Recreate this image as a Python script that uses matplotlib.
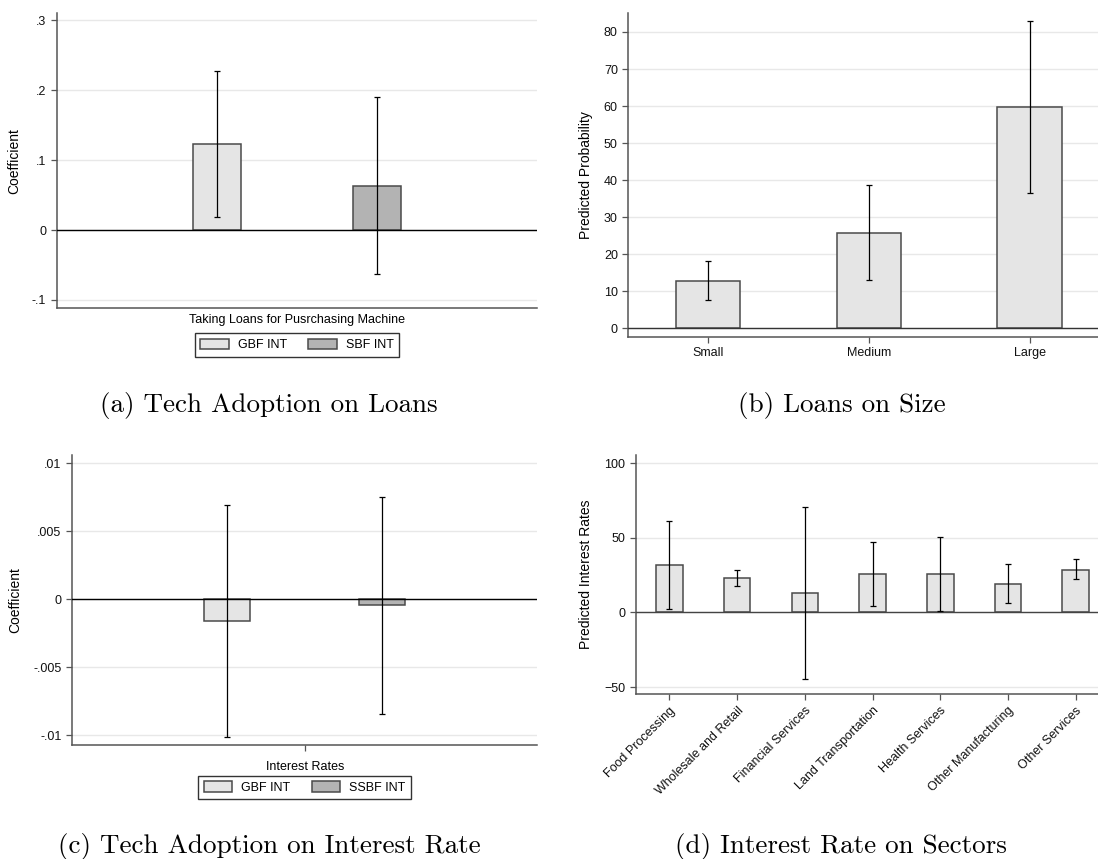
import matplotlib
matplotlib.use("Agg")
import matplotlib.pyplot as plt
from matplotlib.patches import Patch

plt.rcParams['font.family'] = ['Liberation Sans', 'DejaVu Sans']

# (a) tech adoption on loans
loan_groups = ['GBF INT', 'SBF INT']
loan_coef = [0.123, 0.063]
loan_lo = [0.019, -0.063]
loan_hi = [0.228, 0.190]

# (b) loans on size
size_cats = ['Small', 'Medium', 'Large']
size_prob = [12.8, 25.8, 59.7]
size_lo = [7.7, 13.1, 36.6]
size_hi = [18.1, 38.7, 83.0]

# (c) tech adoption on interest rate
rate_groups = ['GBF INT', 'SSBF INT']
rate_coef = [-0.0016, -0.0004]
rate_lo = [-0.0101, -0.0084]
rate_hi = [0.0069, 0.0075]

# (d) interest rate on sectors
sectors = ['Food Processing', 'Wholesale and Retail', 'Financial Services',
           'Land Transportation', 'Health Services', 'Other Manufacturing',
           'Other Services']
sector_rate = [31.6, 22.8, 12.8, 25.5, 25.5, 19.2, 28.6]
sector_lo = [2.0, 17.7, -44.8, 4.5, 0.9, 6.5, 22.2]
sector_hi = [61.6, 28.6, 71.0, 47.2, 50.6, 32.7, 35.8]

LIGHT = '#e5e5e5'
DARK = '#b3b3b3'
EDGE = '#4a4a4a'
AXC = '#555555'


def style(ax):
    for s in ['top', 'right']:
        ax.spines[s].set_visible(False)
    for s in ['left', 'bottom']:
        ax.spines[s].set_color(AXC)
        ax.spines[s].set_linewidth(1.1)
    ax.tick_params(colors=AXC, labelcolor='#111111', labelsize=9,
                   length=4, width=0.9)
    ax.yaxis.grid(True, color='#e8e8e8', lw=1)
    ax.set_axisbelow(True)


def errs(vals, lo, hi):
    return [[v - l for v, l in zip(vals, lo)], [h - v for v, h in zip(vals, hi)]]


def fmt_dot(v):
    s = ('%g' % v)
    if s.startswith('0.'):
        s = s[1:]
    elif s.startswith('-0.'):
        s = '-' + s[2:]
    return s


fig = plt.figure(figsize=(10.98, 8.59), dpi=100)

# ---- (a)
ax = fig.add_axes([0.0517, 0.6411, 0.4377, 0.3434])
style(ax)
xs = [1 / 3, 2 / 3]
ax.bar(xs, loan_coef, width=0.099, color=[LIGHT, DARK], edgecolor=EDGE, lw=1.1, zorder=2)
ax.axhline(0, color='black', lw=1.0, zorder=3)
ax.errorbar(xs, loan_coef, yerr=errs(loan_coef, loan_lo, loan_hi), fmt='none',
            ecolor='black', elinewidth=0.9, capsize=2, capthick=0.9, zorder=4)
ax.set_xlim(0, 1)
ax.set_ylim(-0.112, 0.310)
yt = [-0.1, 0, 0.1, 0.2, 0.3]
ax.set_yticks(yt)
ax.set_yticklabels([fmt_dot(v) for v in yt])
ax.set_xticks([])
ax.set_xlabel('Taking Loans for Pusrchasing Machine', fontsize=9, labelpad=4)
ax.set_ylabel('Coefficient', fontsize=10, labelpad=8)
fig.legend([Patch(fc=LIGHT, ec=EDGE, lw=1.1), Patch(fc=DARK, ec=EDGE, lw=1.1)], loan_groups,
           loc='center', bbox_to_anchor=(0.2706, 0.5984), ncol=2, fontsize=9,
           fancybox=False, edgecolor='#333333', framealpha=1, handlelength=2.3,
           handleheight=0.9, handletextpad=0.7, columnspacing=1.7, borderpad=0.45)

# ---- (b)
ax = fig.add_axes([0.5722, 0.6080, 0.4278, 0.3772])
style(ax)
xb = [1, 2, 3]
ax.bar(xb, size_prob, width=0.4, color=LIGHT, edgecolor=EDGE, lw=1.1, zorder=2)
ax.axhline(0, color='#333333', lw=1.0, zorder=3)
ax.errorbar(xb, size_prob, yerr=errs(size_prob, size_lo, size_hi), fmt='none',
            ecolor='black', elinewidth=0.9, capsize=2, capthick=0.9, zorder=4)
ax.set_xlim(0.502, 3.426)
ax.set_ylim(-2.27, 85.2)
ax.set_yticks(range(0, 81, 10))
ax.set_xticks(xb)
ax.set_xticklabels(size_cats)
ax.set_ylabel('Predicted Probability', fontsize=10, labelpad=8)

# ---- (c)
ax = fig.add_axes([0.0655, 0.1327, 0.4240, 0.3376])
style(ax)
ax.bar(xs, rate_coef, width=0.099, color=[LIGHT, DARK], edgecolor=EDGE, lw=1.1, zorder=2)
ax.axhline(0, color='black', lw=1.0, zorder=3)
ax.errorbar(xs, rate_coef, yerr=errs(rate_coef, rate_lo, rate_hi), fmt='none',
            ecolor='black', elinewidth=0.9, capsize=2, capthick=0.9, zorder=4)
ax.set_xlim(0, 1)
ax.set_ylim(-0.0107, 0.0106)
yt = [-0.01, -0.005, 0, 0.005, 0.01]
ax.set_yticks(yt)
ax.set_yticklabels([fmt_dot(v) for v in yt])
ax.set_xticks([0.5])
ax.set_xticklabels([''])
ax.set_xlabel('Interest Rates', fontsize=9, labelpad=4)
ax.set_ylabel('Coefficient', fontsize=10, labelpad=8)
fig.legend([Patch(fc=LIGHT, ec=EDGE, lw=1.1), Patch(fc=DARK, ec=EDGE, lw=1.1)], rate_groups,
           loc='center', bbox_to_anchor=(0.2773, 0.0832), ncol=2, fontsize=9,
           fancybox=False, edgecolor='#333333', framealpha=1, handlelength=2.3,
           handleheight=0.9, handletextpad=0.7, columnspacing=1.7, borderpad=0.45)

# ---- (d)
ax = fig.add_axes([0.5789, 0.1917, 0.4211, 0.2786])
style(ax)
xd = list(range(1, len(sectors) + 1))
ax.bar(xd, sector_rate, width=0.393, color=LIGHT, edgecolor=EDGE, lw=1.1, zorder=2)
ax.axhline(0, color='#444444', lw=1.0, zorder=3)
ax.errorbar(xd, sector_rate, yerr=errs(sector_rate, sector_lo, sector_hi), fmt='none',
            ecolor='black', elinewidth=0.9, capsize=2, capthick=0.9, zorder=4)
ax.set_xlim(0.5, 7.33)
ax.set_ylim(-54.9, 105.6)
ax.set_yticks([-50, 0, 50, 100])
ax.set_xticks(xd)
ax.set_xticklabels(sectors, rotation=45, ha='right', va='top', rotation_mode='anchor')
ax.set_ylabel('Predicted Interest Rates', fontsize=10, labelpad=8)

# captions
cap = dict(fontfamily='cmr10', fontsize=19.5, ha='center', va='center')
fig.text(0.245, 0.5285, '(a) Tech Adoption on Loans', **cap)
fig.text(0.7668, 0.5285, '(b) Loans on Size', **cap)
fig.text(0.245, 0.0140, '(c) Tech Adoption on Interest Rate', **cap)
fig.text(0.766, 0.0140, '(d) Interest Rate on Sectors', **cap)

fig.savefig('out.png', dpi=100)
